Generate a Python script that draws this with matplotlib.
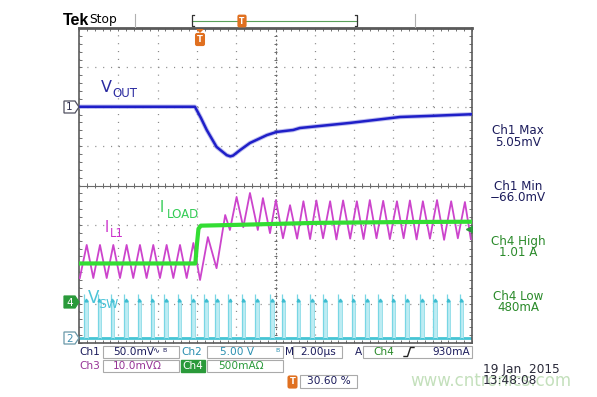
import numpy as np
import matplotlib.pyplot as plt
from matplotlib.patches import Rectangle, Polygon

# scope screen is 10 x 8 divisions (2.00us/div), values below are in divisions
# Ch1 = Vout (50mV/div, ground marker at 6 div)
vout_t = [0.0, 2.95, 3.1, 3.25, 3.5, 3.76, 3.85, 3.92, 4.1, 4.35, 4.78, 5.03,
          5.45, 5.62, 6.9, 8.17, 9.0, 10.0]
vout_div = [6.0, 6.0, 5.72, 5.41, 4.98, 4.77, 4.74, 4.76, 4.9, 5.08, 5.28, 5.36,
            5.41, 5.46, 5.59, 5.74, 5.77, 5.81]

# Ch3 = inductor current (valley / peak points)
il1_t = [0.02, 0.196, 0.364, 0.534, 0.705, 0.873, 1.043, 1.212, 1.38, 1.551,
         1.72, 1.89, 2.06, 2.23, 2.40, 2.57, 2.74, 2.91,
         3.08, 3.28, 3.50, 3.72, 3.84, 4.01, 4.18, 4.35, 4.55, 4.68, 4.86, 5.01,
         5.19, 5.37,
         5.55, 5.71, 5.88, 6.04, 6.21, 6.39, 6.55, 6.72, 6.90, 7.07, 7.24, 7.40,
         7.57, 7.74, 7.91, 8.09, 8.26, 8.42, 8.59, 8.75, 8.93, 9.11, 9.29, 9.47,
         9.64, 9.82, 9.97]
il1_div = [1.65, 2.49, 1.65, 2.49, 1.65, 2.49, 1.65, 2.49, 1.65, 2.49,
           1.65, 2.49, 1.65, 2.49, 1.65, 2.49, 1.65, 2.54,
           1.60, 2.69, 1.90, 3.25, 2.87, 3.71, 2.94, 3.81, 2.87, 3.68, 2.79, 3.63,
           2.66, 3.50,
           2.65, 3.60, 2.64, 3.62, 2.66, 3.60, 2.63, 3.62, 2.65, 3.60, 2.64, 3.63,
           2.66, 3.61, 2.64, 3.60, 2.66, 3.62, 2.63, 3.60, 2.65, 3.63, 2.62, 3.60,
           2.66, 3.58, 2.64]

# Ch4 = load current (500mA/div, ground at 1.04 div)
iload_t = [0.0, 2.96, 3.0, 3.04, 3.1, 4.0, 6.0, 8.0, 10.0]
iload_div = [2.02, 2.02, 2.5, 2.9, 2.98, 3.0, 3.05, 3.07, 3.08]
trig_level_div = 2.9

# Ch2 = switch node, pulse start times
vsw_pulse_t = [0.13, 0.48, 0.81, 1.15, 1.49, 1.83, 2.17, 2.51, 2.85, 3.18, 3.46,
               3.79, 4.14, 4.48, 4.86, 5.16, 5.54, 5.88, 6.21, 6.59, 6.94, 7.28,
               7.61, 7.96, 8.30, 8.68, 9.01, 9.36, 9.69]
vsw_low = 0.12
vsw_high = 1.08
vsw_spike = 1.25

meas_labels = [("Ch1 Max", "5.05mV"), ("Ch1 Min", "\u221266.0mV"),
               ("Ch4 High", "1.01 A"), ("Ch4 Low", "480mA")]

W, H = 597, 397
fig = plt.figure(figsize=(W / 100, H / 100), dpi=100)
fig.patch.set_facecolor('white')

ax = fig.add_axes([79 / W, 1 - 343 / H, 393 / W, 315 / H])
ax.set_xlim(0, 10)
ax.set_ylim(0, 8)
ax.set_xticks(np.arange(0, 11, 1))
ax.set_yticks(np.arange(0, 9, 1))
ax.set_xticks(np.arange(0, 10.01, 0.2), minor=True)
ax.set_yticks(np.arange(0, 8.01, 0.2), minor=True)
ax.tick_params(which='both', direction='in', length=2.2, width=0.7, color='#707070',
               top=True, right=True, labelbottom=False, labelleft=False)
ax.grid(True, which='major', color='#8c8c8c', linestyle=(0, (0.9, 5.4)), linewidth=0.9)
for s in ax.spines.values():
    s.set_color('#5a5a5a')
    s.set_linewidth(1.2)
ax.spines['top'].set_linewidth(2)

# center cross with small ticks
ax.axhline(4, color='#6a6a6a', lw=0.8)
ax.axvline(5, color='#6a6a6a', lw=0.8, linestyle=(0, (1.5, 2.5)))
ax.vlines(np.arange(0.2, 10, 0.2), 4 - 0.07, 4 + 0.07, color='#6a6a6a', lw=0.7)
ax.hlines(np.arange(0.2, 8, 0.2), 5 - 0.05, 5 + 0.05, color='#6a6a6a', lw=0.7)

# switch node pulses
ax.axhline(vsw_low, color='#45c4d4', lw=2, zorder=2)
for t0 in vsw_pulse_t:
    ax.add_patch(Rectangle((t0, vsw_low), 0.09, vsw_high - vsw_low,
                           facecolor='#bdecf3', edgecolor='none', zorder=2))
    ax.vlines(t0, vsw_low, vsw_spike, color='#78d6e4', lw=0.9, zorder=2)
    ax.vlines(t0 + 0.09, vsw_low, vsw_high, color='#98e0ea', lw=0.7, zorder=2)
    ax.plot(t0 + 0.04, vsw_high, marker='^', ms=2, color='#3cbcd0', zorder=3)

ax.plot(il1_t, il1_div, color='#cc44cc', lw=1.3, zorder=3)
ax.plot(iload_t, iload_div, color='#33dd33', lw=3, zorder=4)
ax.plot(vout_t, vout_div, color='#8080e0', lw=3.2, alpha=0.5, zorder=5)
ax.plot(vout_t, vout_div, color='#1f1fc8', lw=1.8, zorder=5)
ax.plot(9.93, trig_level_div, marker='<', ms=4, color='#2a9a3a', zorder=6)

# overlay in pixel coordinates for all the screen text
ov = fig.add_axes([0, 0, 1, 1])
ov.set_xlim(0, W)
ov.set_ylim(H, 0)
ov.axis('off')
ov.set_zorder(5)

navy = '#1c1c5c'
green = '#2a8a2a'
teal = '#2a8fb0'
purple = '#963496'
orange = '#e07020'

ov.text(63, 20.5, "Tek", fontsize=11.5, fontweight='bold', family='Liberation Sans',
        va='center', ha='left', color='black')
ov.text(89, 20, "Stop", fontsize=8.8, va='center', ha='left', color='black')
ov.plot([135, 135], [14, 27], color='#b0b0b0', lw=0.8)
ov.plot([415, 415], [14, 27], color='#b0b0b0', lw=0.8)
ov.plot([192, 357], [20.5, 20.5], color='#5aa05a', lw=0.8)
ov.plot([194, 192, 192, 194], [15, 15, 26, 26], color='#333333', lw=0.9)
ov.plot([355, 357, 357, 355], [15, 15, 26, 26], color='#333333', lw=0.9)
ov.text(242, 21, "T", fontsize=5.5, fontweight='bold', color='white', ha='center', va='center',
        bbox=dict(boxstyle='round,pad=0.25', fc=orange, ec='none'))
ov.add_patch(Polygon([(196, 29), (204, 29), (200, 33)], closed=True, fc=orange, ec='none'))
ov.text(200, 39.5, "T", fontsize=6, fontweight='bold', color='white', ha='center', va='center',
        bbox=dict(boxstyle='round,pad=0.25', fc=orange, ec='none'))

# channel ground markers
def marker(y, txt, fc, ec, tc):
    ov.add_patch(Polygon([(64, y - 6), (75, y - 6), (79, y), (75, y + 6), (64, y + 6)],
                         closed=True, fc=fc, ec=ec, lw=0.9))
    ov.text(69.5, y + 0.5, txt, fontsize=7.5, color=tc, ha='center', va='center')

marker(107, "1", 'white', '#505060', '#303050')
marker(302, "4", '#2a9a3a', '#2a9a3a', 'white')
marker(338, "2", 'white', '#6a98a8', '#3f8fb0')

# trace labels
ov.text(101, 92, "V", fontsize=11.5, color='#2a2aa0', ha='left', va='baseline')
ov.text(112, 97, "OUT", fontsize=8.5, color='#2a2aa0', ha='left', va='baseline')
ov.text(160, 212, "I", fontsize=10.5, color='#33cc55', ha='left', va='baseline')
ov.text(167, 218, "LOAD", fontsize=8.5, color='#33cc55', ha='left', va='baseline')
ov.text(105, 232, "I", fontsize=10.5, color='#cc33cc', ha='left', va='baseline')
ov.text(110, 237, "L1", fontsize=8.5, color='#cc33cc', ha='left', va='baseline')
ov.text(88, 303, "V", fontsize=12, color='#4cc4d8', ha='left', va='baseline')
ov.text(98, 308, "SW", fontsize=9, color='#4cc4d8', ha='left', va='baseline')

# measurements on the right
for i, (name, val) in enumerate(meas_labels):
    c = navy if name.startswith("Ch1") else green
    y0 = 131 + i * 55.3
    ov.text(518, y0, name, fontsize=8.6, color=c, ha='center', va='center')
    ov.text(518, y0 + 11, val, fontsize=8.6, color=c, ha='center', va='center')

# bottom readout boxes
box_ec = '#aaaaaa'
def box(x0, x1, y0, y1, fc='none'):
    ov.add_patch(Rectangle((x0, y0), x1 - x0, y1 - y0, fc=fc, ec=box_ec, lw=0.8))

fs = 7.6
box(103, 179, 346, 358)
box(207, 283, 346, 358)
box(293, 342, 346, 358)
box(363, 472, 346, 358)
box(103, 179, 360, 372)
box(207, 283, 360, 372)
box(300, 357, 375, 388)

ov.text(79, 352, "Ch1", fontsize=fs, color=navy, ha='left', va='center')
ov.text(113, 352, "50.0mV", fontsize=fs, color=navy, ha='left', va='center')
ov.text(152, 351, "\u223f", fontsize=6, color=navy, ha='left', va='center')
ov.text(162, 350, "B", fontsize=4.5, color=navy, ha='left', va='center')
ov.text(181, 352, "Ch2", fontsize=fs, color=teal, ha='left', va='center')
ov.text(220, 352, "5.00 V", fontsize=fs, color=teal, ha='left', va='center')
ov.text(275, 350, "B", fontsize=4.5, color=teal, ha='left', va='center')
ov.text(285, 352, "M", fontsize=fs, color=navy, ha='left', va='center')
ov.text(300, 352, "2.00\u00b5s", fontsize=fs, color=navy, ha='left', va='center')
ov.text(355, 352, "A", fontsize=fs, color=navy, ha='left', va='center')
ov.text(373, 352, "Ch4", fontsize=fs, color=green, ha='left', va='center')
ov.plot([404, 407.5, 410.5, 414], [356.5, 356.5, 347.5, 347.5], color='#222222', lw=1)
ov.text(470, 352, "930mA", fontsize=fs, color=navy, ha='right', va='center')

ov.text(79, 366, "Ch3", fontsize=fs, color=purple, ha='left', va='center')
ov.text(113, 366, "10.0mV\u03a9", fontsize=fs, color=purple, ha='left', va='center')
ov.add_patch(Rectangle((181, 360), 24, 12, fc='#2a9a3a', ec='#2a9a3a'))
ov.text(193, 366, "Ch4", fontsize=fs, color='white', ha='center', va='center')
ov.text(218, 366, "500mA\u03a9", fontsize=fs, color='#2a9a3a', ha='left', va='center')

ov.text(292.5, 382, "T", fontsize=6, fontweight='bold', color='white', ha='center', va='center',
        bbox=dict(boxstyle='round,pad=0.25', fc=orange, ec='none'))
ov.text(328.5, 381.5, "30.60 %", fontsize=fs, color=navy, ha='center', va='center')

# watermark (sits under the time stamp, as in the screenshot) and date
ov.text(410, 381, "www.cntronics.com", fontsize=12, color='#c4e0bc', ha='left', va='center',
        zorder=1)
ov.text(483, 369, "19 Jan  2015", fontsize=8.7, color='#2a2a3a', ha='left', va='center', zorder=2)
ov.text(483, 381, "13:48:08", fontsize=8.7, color='#2a2a3a', ha='left', va='center', zorder=2)

fig.savefig('out.png', dpi=100, facecolor='white')
